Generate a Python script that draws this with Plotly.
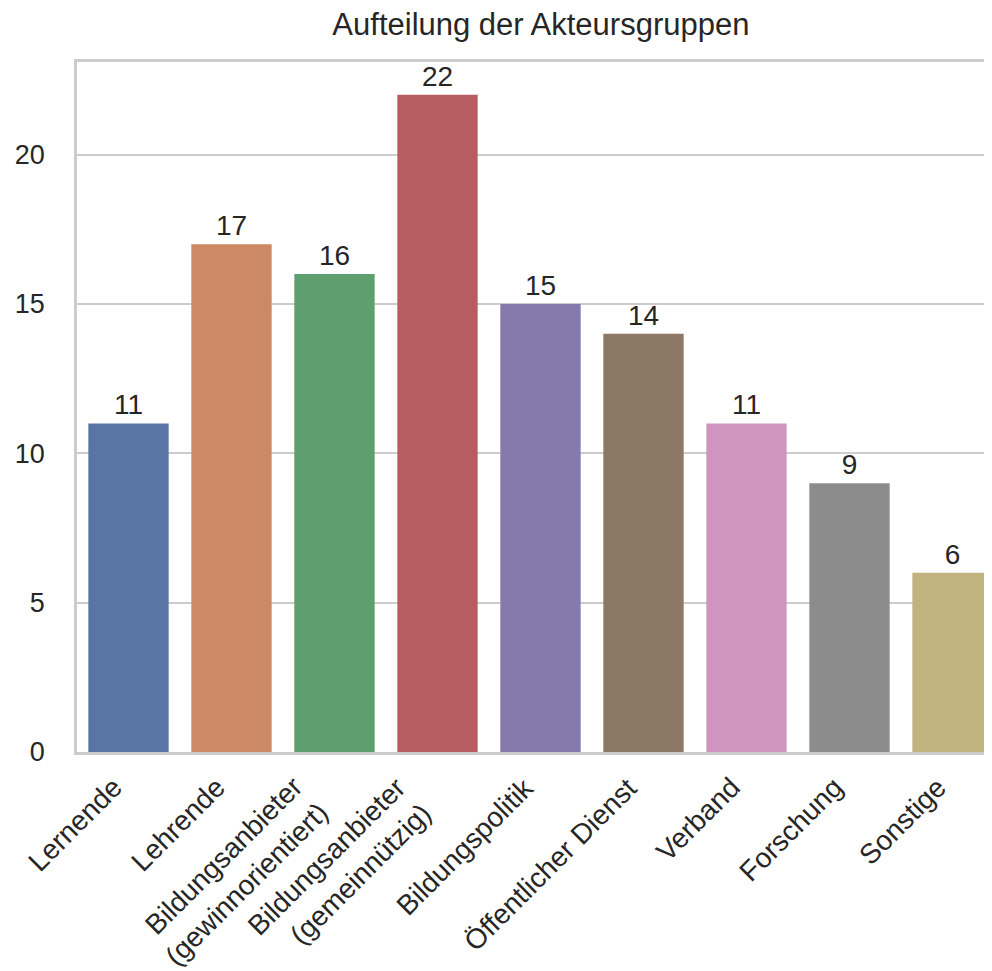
import plotly.graph_objects as go

categories = ["Lernende", "Lehrende", "Bildungsanbieter<br>(gewinnorientiert)",
              "Bildungsanbieter<br>(gemeinnützig)", "Bildungspolitik",
              "Öffentlicher Dienst", "Verband", "Forschung", "Sonstige"]
values = [11, 17, 16, 22, 15, 14, 11, 9, 6]
colors = ["#5975a4", "#cc8963", "#5f9e6e", "#b55d60", "#857aab",
          "#8d7866", "#d095bf", "#8c8c8c", "#c1b37f"]
y_ticks = [0, 5, 10, 15, 20]

FONT = "Liberation Sans, Arial, sans-serif"
TXT = "#262626"
GRID = "#cccccc"

# page has an 8px body margin; figure sized to fit inside the 992x971 window
W, H = 984, 963

xs = list(range(len(categories)))

fig = go.Figure(go.Bar(
    x=xs, y=values,
    marker=dict(color=colors, line=dict(width=0)),
    width=0.78,
    text=[str(v) for v in values], textposition="outside",
    textfont=dict(size=28, color=TXT, family=FONT),
    cliponaxis=False,
))

# rotated category labels, right/top anchored at each tick (like ha="right")
for i, lab in zip(xs, categories):
    fig.add_annotation(
        x=i, xref="x", y=0, yref="paper", text=lab,
        textangle=-45, xanchor="right", yanchor="top", align="right",
        xshift=2, yshift=-17, showarrow=False,
        font=dict(size=28, color=TXT, family=FONT),
    )

fig.update_layout(
    width=W, height=H,
    margin=dict(l=69, r=0, t=54, b=219, autoexpand=False),
    plot_bgcolor="white", paper_bgcolor="white",
    showlegend=False,
    font=dict(family=FONT, color=TXT, size=27),
    title=dict(text="Aufteilung der Akteursgruppen", x=0.507, xref="paper",
               xanchor="center", yref="container", y=1 - 16 / H,
               yanchor="middle",
               font=dict(size=31, color=TXT, family=FONT)),
)
fig.update_xaxes(
    range=[-0.5, -0.5 + 915 / 103], tickvals=xs, showticklabels=False,
    showgrid=False, zeroline=False,
    showline=True, linecolor=GRID, linewidth=2.5, mirror=True, ticks="",
)
fig.update_yaxes(
    range=[0, 23.1], tickvals=y_ticks, showgrid=True, gridcolor=GRID,
    gridwidth=2, zeroline=False, showline=True, linecolor=GRID,
    linewidth=2.5, mirror=True, ticks="", ticklabelstandoff=24,
    tickfont=dict(size=27, color=TXT, family=FONT),
)

fig.write_html("out.html")
